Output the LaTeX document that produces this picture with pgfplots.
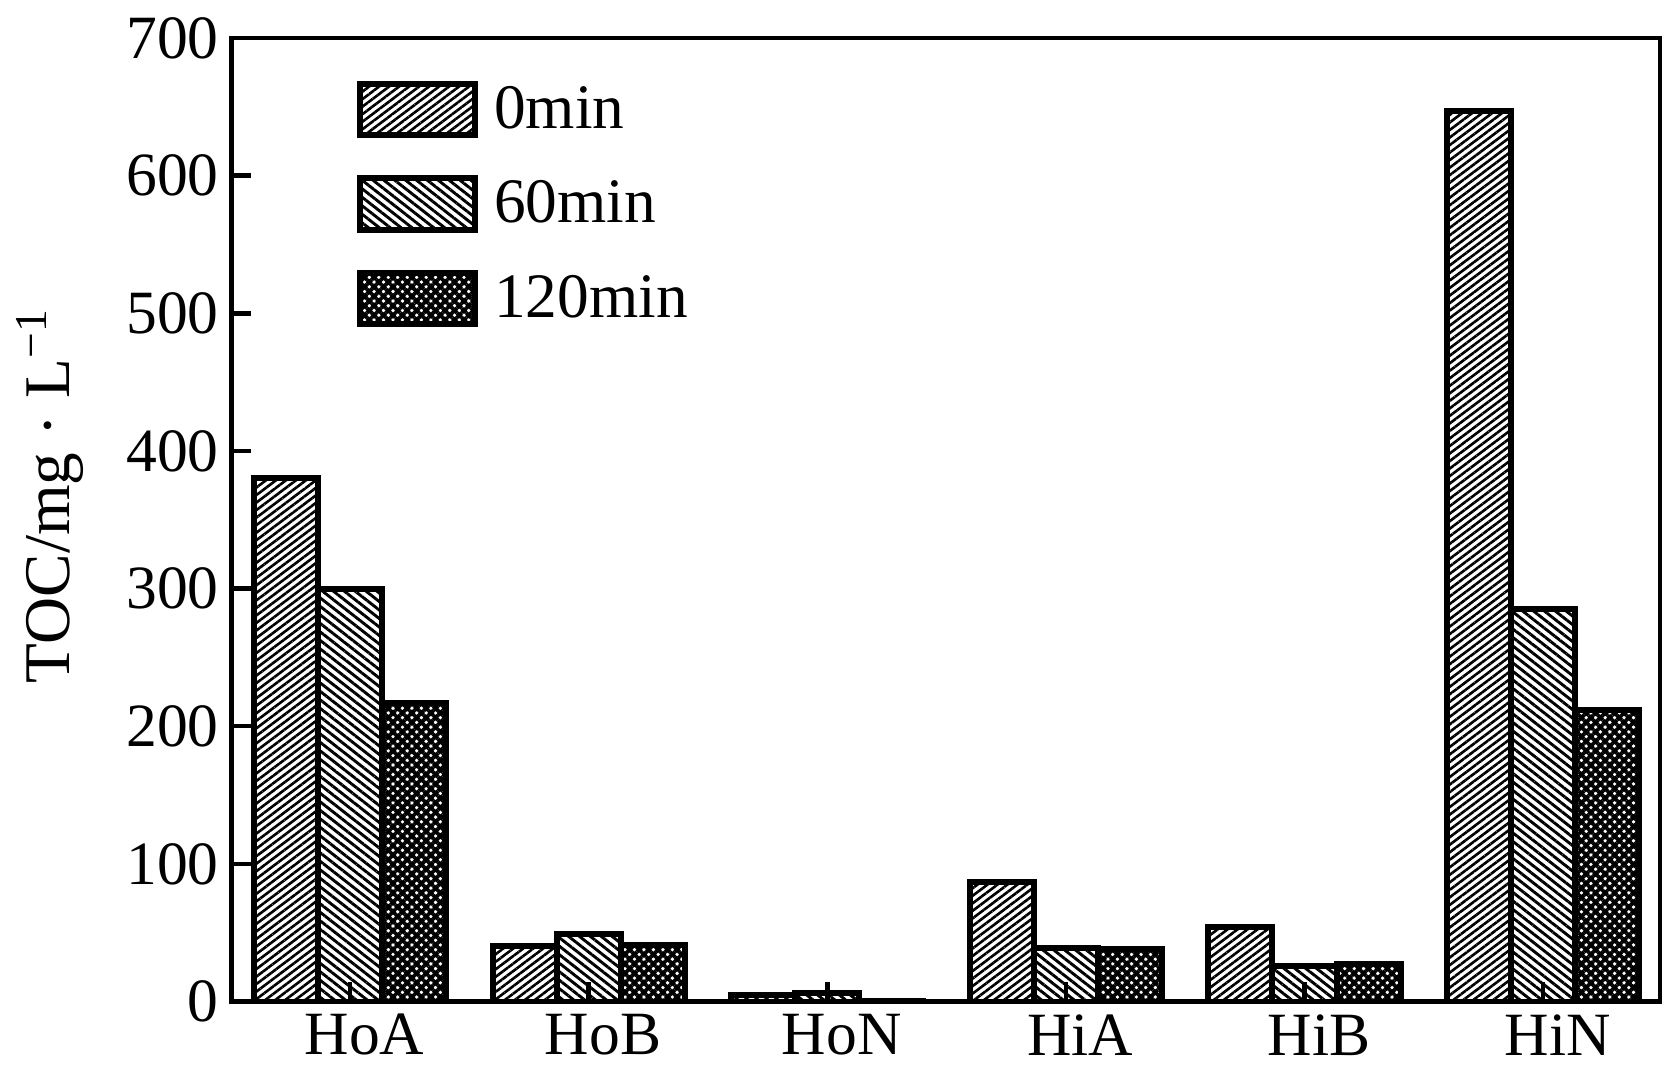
\documentclass[border=0pt]{standalone}
\usepackage{fontspec}
\setmainfont{Liberation Serif}
\usepackage{pgfplots}
\pgfplotsset{compat=1.18}
\usetikzlibrary{patterns.meta}

\pgfplotsset{
  mylegend/.style={legend image code/.code={\draw[##1, line width=1.65pt] (0pt,-7.0pt) rectangle (31.8pt,7.2pt);}},
}

\begin{document}
\begin{tikzpicture}
\useasboundingbox (-63.96pt,-23.62pt) rectangle (396.04pt,276.69pt);
\begin{axis}[
  at={(0pt,0pt)}, anchor=south west,
  width=394.66pt, height=266.19pt, scale only axis,
  ybar=0pt, bar width=17.7pt,
  xmin=-0.4966, xmax=5.49, ymin=0, ymax=700,
  xtick={0,1,2,3,4,5},
  xticklabels={HoA,HoB,HoN,HiA,HiB,HiN},
  ytick={0,100,200,300,400,500,600,700},
  tick align=inside, xtick pos=bottom, ytick pos=left,
  major tick length=5.5pt,
  axis line style={line width=1.25pt},
  every tick/.style={black, line width=1.25pt},
  /pgf/number format/assume math mode=true,
  yticklabel style={font=\fontsize{17}{20}\selectfont},
  xticklabel style={font=\fontsize{17}{20}\selectfont, xshift=4pt},
  ylabel={TOC/mg · L\textsuperscript{−1}},
  ylabel style={at={(axis description cs:-0.127,0.525)}, anchor=center, font=\fontsize{18}{21}\selectfont},
  axis on top,
  legend style={draw=none, fill=none, at={(axis description cs:0.0877,0.9557)}, anchor=north west,
    inner sep=0pt, outer sep=0pt, row sep=10.3pt, font=\fontsize{17.5}{20}\selectfont,
    nodes={inner xsep=4.5pt, inner ysep=0pt}},
  legend cell align=left,
]
\addplot[draw=black, line width=1.65pt, pattern={Lines[angle=37,distance=1.66pt,line width=0.72pt]}, mylegend]
  coordinates {(0,380) (1,40) (2,5) (3,87) (4,54) (5,647)};
\addplot[draw=black, line width=1.65pt, pattern={Lines[angle=-38,distance=1.85pt,line width=0.8pt]}, mylegend]
  coordinates {(0,300) (1,49) (2,6) (3,39) (4,26) (5,285)};
\addplot[draw=black, line width=1.65pt, pattern={Hatch[angle=45,distance=1.85pt,line width=1.05pt]}, mylegend]
  coordinates {(0,217) (1,41) (2,0.5) (3,38) (4,27) (5,212)};
\legend{0min,60min,120min}
\end{axis}
\end{tikzpicture}
\end{document}
